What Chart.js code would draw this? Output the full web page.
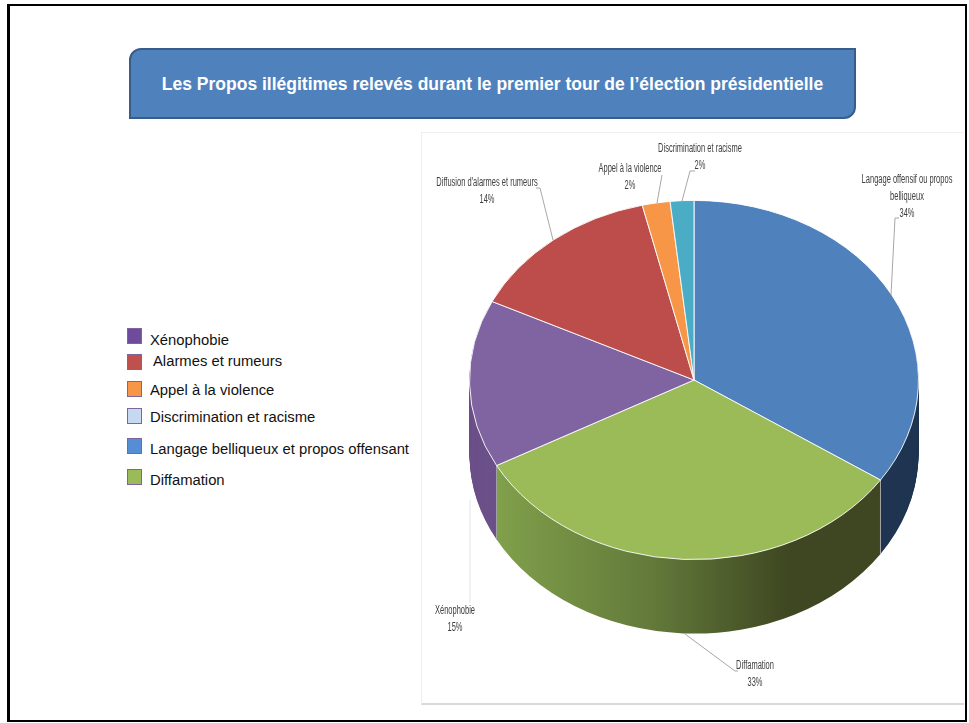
<!DOCTYPE html>
<html>
  <head>
    <title>Propos illégitimes</title>
    <meta charset="utf-8">
    <style>
      body { margin:0; background:#fff; font-family:"Liberation Sans",Arial,sans-serif; overflow:hidden; }
      #page { position:absolute; left:7px; top:4px; width:955px; height:714px; border:solid #000; border-width:2px 2px 2px 3px; }
      #panel { position:absolute; left:421px; top:132px; width:542px; height:570px; border:solid #eeeeee; border-width:1px 0 0 1px; border-bottom:2px solid #d9d9d9; }
      #title { position:absolute; left:129px; top:48px; width:723px; height:67px; line-height:68px; background:#4f81bd; border:2px solid #385d8a;
        border-radius:12px 0 12px 0; color:#fff; font-weight:bold; font-size:17.5px; text-align:center; white-space:nowrap; }
      canvas { position:absolute; left:0; top:0; }
      .sw { position:absolute; left:127px; width:13px; height:14px; border:1px solid #8064a2; }
      .lg { position:absolute; font-size:15.5px; line-height:18px; color:#111; white-space:nowrap; transform:scaleX(0.955); transform-origin:left center; }
    </style>
  </head>
  <script src="https://cdn.jsdelivr.net/npm/chart.js"></script>
  <body>
    <div id="page"></div>
    <div id="panel"></div>
    <div id="title">Les Propos illégitimes relevés durant le premier tour de l’élection présidentielle</div>
    <div id="legend"></div>
    <canvas id="myChart" width="969" height="723"></canvas>

    <script>
      const categories = ["Langage offensif ou propos\nbelliqueux", "Diffamation", "Xénophobie", "Diffusion d'alarmes et rumeurs", "Appel à la violence", "Discrimination et racisme"]
      const values = [34.4, 32.7, 15.1, 14.1, 2.0, 1.7]
      const sliceColors = ["#4f81bd", "#9bbb59", "#8064a2", "#bc4d4b", "#f79646", "#4bacc6"]
      const wallColors = ["#1f3552", "#3e4721", "#6c5089", "#7d3331", "#a5642e", "#327284"]

      const legendLabels = ["Xénophobie", "Alarmes et rumeurs", "Appel à la violence", "Discrimination et racisme", "Langage belliqueux et propos offensant", "Diffamation"]
      const legendColors = ["#6f4b9b", "#c0504d", "#f79646", "#c6d9f1", "#558ed5", "#9bbb59"]
      const legendSwatchTop = [328, 354, 381, 408, 438, 469]
      const legendTextTop = [331, 352, 381, 408, 440, 471]
      const legendTextLeft = [150, 153, 150, 150, 150, 150]

      // pie is flattened to look 3d
      const cx = 694, cy = 380, radius = 225
      const tilt = 0.8, depth = 74

      // label centre + leader line for each slice, same order as categories
      const labelPos = [
        { x: 907, y: 180, line: [[891, 295], [895, 218], [899, 218]] },
        { x: 755, y: 666, line: [[685, 634], [735, 671], [738, 671]] },
        { x: 455, y: 611, line: [[470, 500], [470, 603]], light: true },
        { x: 487, y: 183, line: [[553, 240], [540, 188], [536, 188]] },
        { x: 630, y: 169, line: [[657, 203], [662, 175]] },
        { x: 700, y: 149, line: [[682, 201], [690, 171], [695, 171]] }
      ]

      const legendBox = document.getElementById("legend")
      legendLabels.forEach((name, i) => {
        const sw = document.createElement("div")
        sw.className = "sw"
        sw.style.top = legendSwatchTop[i] + "px"
        sw.style.background = legendColors[i]
        legendBox.appendChild(sw)
        const txt = document.createElement("div")
        txt.className = "lg"
        txt.style.top = legendTextTop[i] + "px"
        txt.style.left = legendTextLeft[i] + "px"
        txt.textContent = name
        legendBox.appendChild(txt)
      })

      function tiltCtx(ctx, dy) {
        ctx.translate(0, cy + dy)
        ctx.scale(1, tilt)
        ctx.translate(0, -cy)
      }

      const pie3d = {
        id: "pie3d",
        beforeDatasetDraw(chart) {
          const ctx = chart.ctx
          const arcs = chart.getDatasetMeta(0).data

          // back slices first, green last so it sits over the others
          const order = [3, 4, 5, 2, 0, 1]
          order.forEach(i => {
            const arc = arcs[i]
            let fill = wallColors[i]
            if (i === 1) {
              fill = ctx.createLinearGradient(497, 0, 881, 0)
              fill.addColorStop(0, "#80a04b")
              fill.addColorStop(0.4, "#637a3a")
              fill.addColorStop(0.76, "#3e4721")
              fill.addColorStop(1, "#3e4721")
            }
            const saved = arc.options
            arc.options = Object.assign({}, saved, { backgroundColor: fill, borderWidth: 0 })
            for (let d = depth; d >= 1; d--) {
              ctx.save()
              tiltCtx(ctx, d)
              arc.draw(ctx)
              ctx.restore()
            }
            arc.options = saved
          })

          // grey edges where the front slices meet on the wall
          arcs.forEach(arc => {
            const s = Math.sin(arc.endAngle)
            if (s > 0.01) {
              const x = arc.x + arc.outerRadius * Math.cos(arc.endAngle)
              const y = cy + arc.outerRadius * s * tilt
              ctx.save()
              ctx.strokeStyle = "#a6a6a6"
              ctx.lineWidth = 1
              ctx.beginPath()
              ctx.moveTo(x, y)
              ctx.lineTo(x, y + depth)
              ctx.stroke()
              ctx.restore()
            }
          })

          ctx.save()
          tiltCtx(ctx, 0)
        },
        afterDatasetDraw(chart) {
          chart.ctx.restore()
        },
        afterDraw(chart) {
          const ctx = chart.ctx
          ctx.save()
          ctx.textAlign = "center"
          ctx.textBaseline = "middle"
          ctx.font = '12.5px "Liberation Sans"'
          labelPos.forEach((lab, i) => {
            ctx.strokeStyle = lab.light ? "#e4e4e4" : "#a6a6a6"
            ctx.lineWidth = 1
            ctx.beginPath()
            lab.line.forEach((p, k) => k ? ctx.lineTo(p[0], p[1]) : ctx.moveTo(p[0], p[1]))
            ctx.stroke()

            ctx.fillStyle = "#404040"
            const lines = categories[i].split("\n")
            lines.push(Math.round(values[i]) + "%")
            lines.forEach((t, k) => {
              // reference text is very condensed, squeeze it
              ctx.save()
              ctx.translate(lab.x, lab.y + k * 17)
              ctx.scale(0.6, 1)
              ctx.fillText(t, 0, 0)
              ctx.restore()
            })
          })
          ctx.restore()
        }
      }

      new Chart("myChart", {
        type: "pie",
        data: {
          labels: categories,
          datasets: [{
            data: values,
            backgroundColor: sliceColors,
            borderColor: "#ffffff",
            borderWidth: 1
          }]
        },
        options: {
          responsive: false,
          animation: false,
          events: [],
          layout: {
            padding: { left: cx - radius, right: 969 - cx - radius, top: cy - radius, bottom: 723 - cy - radius }
          },
          plugins: {
            legend: { display: false },
            tooltip: { enabled: false }
          }
        },
        plugins: [pie3d]
      })
    </script>
  </body>
</html>
